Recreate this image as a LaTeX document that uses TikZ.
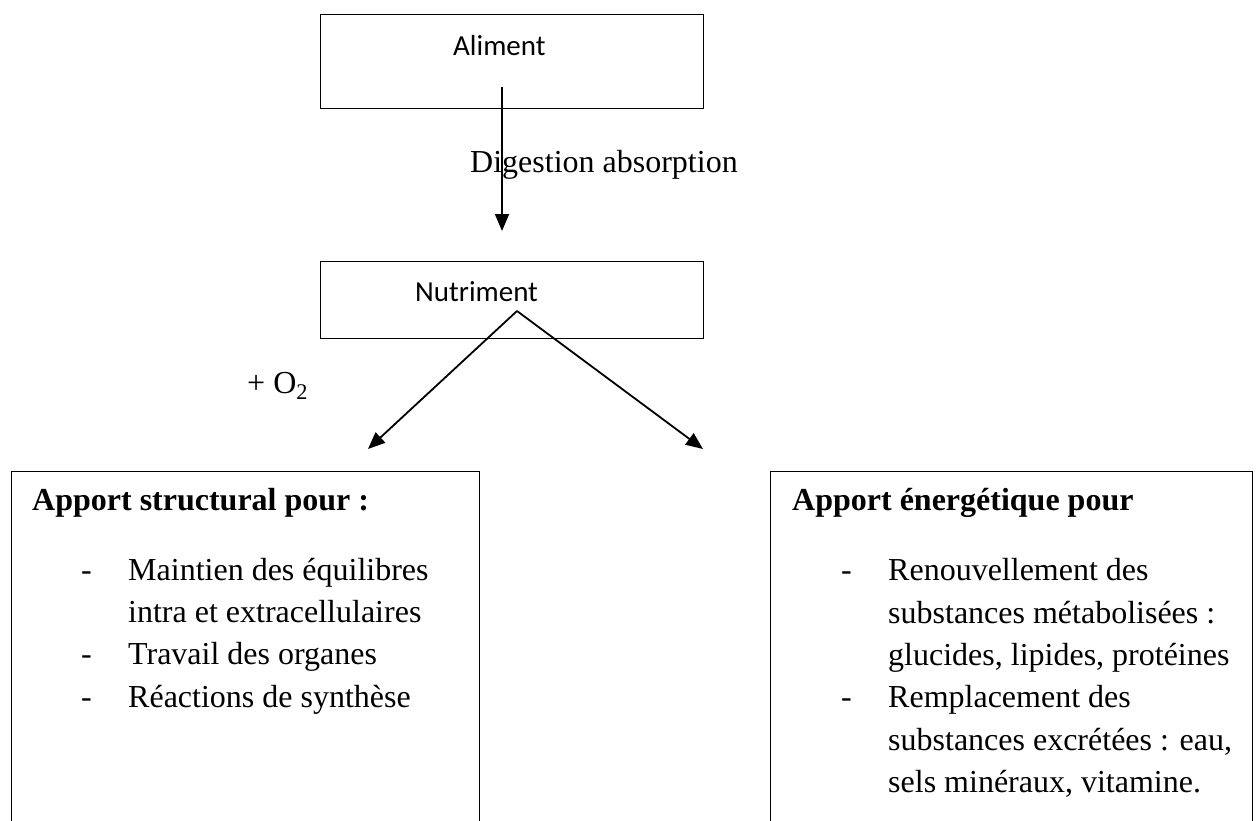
\documentclass[tikz,border=0pt]{standalone}
\usepackage{fontspec}
\setmainfont{Liberation Serif}
\newfontfamily\calibri{Carlito}
\usetikzlibrary{arrows.meta}
\begin{document}
\begin{tikzpicture}[x=1pt,y=-1pt,
  box/.style={draw, line width=1.3pt, inner sep=0pt, anchor=north west},
  arr/.style={line width=1.8pt, -{Triangle[length=17pt,width=14pt]}},
  txt/.style={inner sep=0pt, anchor=base west, font=\fontsize{32}{42}\selectfont},
  sanstxt/.style={inner sep=0pt, anchor=base west, font=\calibri\fontsize{29}{36}\selectfont}]
\useasboundingbox (0,0) rectangle (1258,820);
\clip (0,0) rectangle (1258,820);
\fill[white] (0,0) rectangle (1258,820);

% top boxes
\node[box, minimum width=383pt, minimum height=94pt] (aliment) at (320,14) {};
\node[sanstxt] (alimenttxt) at (453,55) {Aliment};
\node[box, minimum width=383pt, minimum height=77pt] (nutriment) at (320,261) {};
\node[sanstxt] (nutrimenttxt) at (415,301) {Nutriment};

% bottom boxes
\node[box, minimum width=468pt, minimum height=380pt] (struct) at (11,471) {};
\node[box, minimum width=482pt, minimum height=380pt] (energ) at (770,471) {};

% arrows
\coordinate (a1) at (502,87);
\coordinate (a2) at (502,231);
\draw[arr] (a1) -- (a2);
\node[txt] (digest) at (470,172) {Digestion absorption};

\coordinate (apex) at (517,311);
\coordinate (ltip) at (368,449);
\coordinate (rtip) at (703,449);
\draw[arr] (apex) -- (ltip);
\draw[arr] (apex) -- (rtip);
\node[txt] (o2) at (247,393) {+ O\textsubscript{2}};

% left box text
\node[txt, font=\bfseries\fontsize{32}{42}\selectfont] (stitle) at (32,510) {Apport structural pour :};
\node[txt] (sd1) at (81,580) {-};
\node[txt] (s1) at (128,580) {Maintien des équilibres};
\node[txt] (s1b) at (128,622) {intra et extracellulaires};
\node[txt] (sd2) at (81,664) {-};
\node[txt] (s2) at (128,664) {Travail des organes};
\node[txt] (sd3) at (81,707) {-};
\node[txt] (s3) at (128,707) {Réactions de synthèse};

% right box text
\node[txt, font=\bfseries\fontsize{32}{42}\selectfont] (etitle) at (792,510) {Apport énergétique pour};
\node[txt] (ed1) at (841,580) {-};
\node[txt] (e1) at (888,580) {Renouvellement des};
\node[txt] (e1b) at (888,623) {substances métabolisées :};
\node[txt] (e1c) at (888,665) {glucides, lipides, protéines};
\node[txt] (ed2) at (841,707) {-};
\node[txt] (e2) at (888,707) {Remplacement des};
\node[txt] (e2b) at (888,750) {substances excrétées : eau,};
\node[txt] (e2c) at (888,792) {sels minéraux, vitamine.};
\end{tikzpicture}
\end{document}
